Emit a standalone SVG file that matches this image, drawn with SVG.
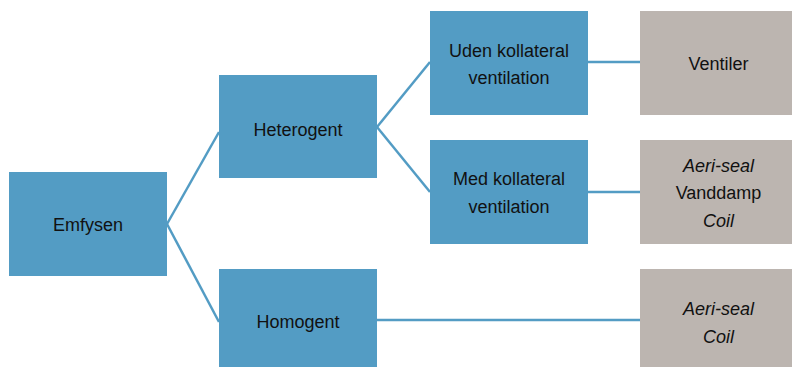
<svg xmlns="http://www.w3.org/2000/svg" width="792" height="367" viewBox="0 0 792 367">
<style>
.b{fill:#539cc4}
.g{fill:#bcb5b0}
.t{font-family:"Liberation Sans",Arial,sans-serif;font-size:18px;fill:#111;text-anchor:middle}
.i{font-style:italic}
.c{stroke:#539cc4;stroke-width:2.5;fill:none}
</style>
<rect width="792" height="367" fill="#fff"/>
<g id="connectors">
<line class="c" x1="167" y1="224" x2="219" y2="132"/>
<line class="c" x1="167" y1="224" x2="219" y2="322"/>
<line class="c" x1="377" y1="127" x2="430" y2="62"/>
<line class="c" x1="377" y1="127" x2="430" y2="192"/>
<line class="c" x1="588" y1="62" x2="640" y2="62"/>
<line class="c" x1="588" y1="192" x2="640" y2="192"/>
<line class="c" x1="377" y1="320" x2="640" y2="320"/>
</g>
<g id="emfysen"><rect class="b" x="9" y="172" width="158" height="104"/><text class="t" x="88" y="231">Emfysen</text></g>
<g id="heterogent"><rect class="b" x="219" y="75" width="158" height="103"/><text class="t" x="298" y="136">Heterogent</text></g>
<g id="homogent"><rect class="b" x="219" y="269" width="158" height="98"/><text class="t" x="298" y="328">Homogent</text></g>
<g id="uden"><rect class="b" x="430" y="11" width="158" height="104"/><text class="t" x="509" y="57">Uden kollateral</text><text class="t" x="509" y="84">ventilation</text></g>
<g id="med"><rect class="b" x="430" y="140" width="158" height="104"/><text class="t" x="509" y="185">Med kollateral</text><text class="t" x="509" y="213">ventilation</text></g>
<g id="ventiler"><rect class="g" x="640" y="11" width="157" height="104"/><text class="t" x="718.5" y="70">Ventiler</text></g>
<g id="behandling-med"><rect class="g" x="640" y="140" width="157" height="104"/><text class="t i" x="718.5" y="172">Aeri-seal</text><text class="t" x="718.5" y="199">Vanddamp</text><text class="t i" x="718.5" y="227">Coil</text></g>
<g id="behandling-homogent"><rect class="g" x="640" y="269" width="157" height="98"/><text class="t i" x="718.5" y="315">Aeri-seal</text><text class="t i" x="718.5" y="343">Coil</text></g>
</svg>
